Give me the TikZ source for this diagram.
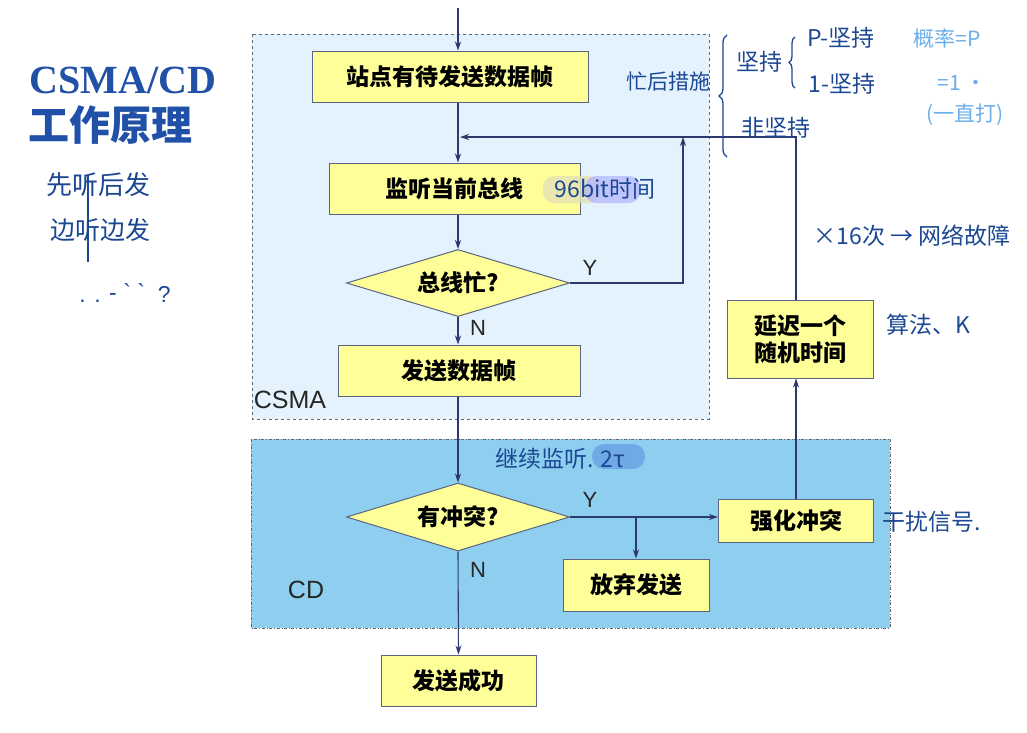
\documentclass[tikz,border=0pt]{standalone}
\usepackage{fontspec}
\setmainfont{Liberation Sans}
\newfontfamily\cjk{Noto Sans CJK SC}
\newfontfamily\titleserif{Liberation Serif}
\usetikzlibrary{shapes.geometric,arrows.meta,decorations.pathreplacing}
\definecolor{boxfill}{HTML}{FFFF99}
\definecolor{boxline}{HTML}{5B6480}
\definecolor{flowline}{HTML}{2E3A6E}
\definecolor{csmafill}{HTML}{E3F2FC}
\definecolor{cdfill}{HTML}{8ECFF0}
\definecolor{titleblue}{HTML}{2150A8}
\definecolor{ink}{HTML}{1C4893}
\definecolor{lightink}{HTML}{6AAEEA}
\definecolor{marker}{HTML}{6FA9E6}

\begin{document}
\begin{tikzpicture}[x=1pt,y=-1pt,
    box/.style={draw=boxline,fill=boxfill,line width=1pt,inner sep=0pt,
      font=\cjk\fontsize{23}{27}\selectfont\bfseries,align=center},
    decision/.style={diamond,aspect=3.3,draw=boxline,fill=boxfill,line width=1pt,inner sep=0pt,
      font=\cjk\fontsize{23}{27}\selectfont\bfseries},
    flow/.style={draw=flowline,line width=1.1pt,-{Stealth[length=9pt,width=6pt]}},
    yn/.style={font=\fontsize{22}{24}\selectfont,text=black!85},
    hand/.style={text=ink,font=\cjk\fontsize{23}{26}\selectfont},
    lighthand/.style={text=lightink,font=\cjk\fontsize{21}{24}\selectfont}]
    \fill[white] (0,0) rectangle (1027,732);
    \useasboundingbox (0,0) rectangle (1027,732);
    % regions ===============================================
    \draw[gray!80!black,dashed,fill=csmafill] (252,34) rectangle (709,419);
    \draw[gray!80!black,dash dot,fill=cdfill] (251,439) rectangle (890,628);
    \node[font=\fontsize{25}{28}\selectfont,text=black!85] (csmalbl) at (290,400) {CSMA};
    \node[font=\fontsize{25}{28}\selectfont,text=black!85] (cdlbl)   at (306,590) {CD};
    % title =================================================
    \node[anchor=west,text=titleblue,font=\titleserif\fontsize{40}{44}\selectfont\bfseries] (title)  at (26,80)  {CSMA/CD};
    \node[anchor=west,text=titleblue,font=\cjk\fontsize{41}{45}\selectfont\bfseries]        (title2) at (25,125) {工作原理};
    % CSMA ==================================================
    \coordinate (entry) at (458,8);
    \node[box,minimum width=276,minimum height=51] (wait)    at (450,76.5)  {站点有待发送数据帧};
    \node[box,minimum width=251,minimum height=51] (listen)  at (454.5,188.5) {监听当前总线};
    \node[decision,minimum width=223,minimum height=67] (busy) at (458,283) {总线忙?};
    \node[box,minimum width=242,minimum height=51] (send)    at (459,370.5) {发送数据帧};
    \coordinate (merge)  at (460,137);
    \coordinate (loopup) at (683,137);
    % CD ====================================================
    \node[decision,minimum width=223,minimum height=68] (collide) at (458,517) {有冲突?};
    \node[box,minimum width=146,minimum height=52] (quit)    at (636,585)   {放弃发送};
    \node[box,minimum width=155,minimum height=43] (jam)     at (796,520.5) {强化冲突};
    \node[box,minimum width=146,minimum height=78] (delay)   at (800,339)   {延迟一个\\随机时间};
    \node[box,minimum width=155,minimum height=51] (success) at (458.5,680.5) {发送成功};
    % connectors ============================================
    \draw[flow] (entry) -- (entry |- wait.north);
    \draw[flow] (entry |- wait.south) -- (entry |- listen.north);
    \draw[flow] (entry |- listen.south) -- (busy.north);
    \draw[flow] (busy.east) -| (loopup);
    \draw[flow] (busy.south) -- (busy.south |- send.north);
    \draw[flow] (busy.south |- send.south) -- (collide.north);
    \draw[flow] (collide.east) -- (collide.east -| jam.west);
    \draw[flow] (collide.east -| quit.north) -- (quit.north);
    \draw[flow] (jam.north) -- (jam.north |- delay.south);
    \draw[flow] (jam.north |- delay.north) |- (merge);
    \draw[flow] (collide.south) -- (success.north);
    \node[yn] (busyY)    at (590,268) {Y};
    \node[yn] (busyN)    at (478,328) {N};
    \node[yn] (collideY) at (590,500) {Y};
    \node[yn] (collideN) at (478,570) {N};
    % handwritten notes =====================================
    \node[hand,font=\cjk\fontsize{26}{28}\selectfont] (note1) at (98,185) {先听后发};
    \node[hand,font=\cjk\fontsize{25}{28}\selectfont] (note2) at (100,230) {边听边发};
    \draw[ink,line width=1.3pt] (88,175) -- (88,262);
    \node[hand] (note3) at (125,293) {\fontspec{Liberation Sans}. . \raisebox{2pt}{- ` `}\ \ ?};
    \fill[yellow!45!gray!45,rounded corners=11pt,opacity=.8] (543,176) rectangle (600,203);
    \fill[blue!30!white,rounded corners=11pt,opacity=.7] (585,176) rectangle (640,203);
    \node[hand] (note4) at (605,189) {96bit时间};
    \node[hand,font=\cjk\fontsize{21}{24}\selectfont] (note5) at (668,82) {忙后措施};
    \draw[ink,line width=1.3pt,decorate,decoration={brace,amplitude=8pt}] (727,157) -- (727,35);
    \node[hand] (keep)    at (759,62)  {坚持};
    \draw[ink,line width=1.3pt,decorate,decoration={brace,amplitude=6pt}] (795,88) -- (795,37);
    \node[hand] (pkeep)   at (841,38)  {P-坚持};
    \node[hand] (onekeep) at (842,84)  {1-坚持};
    \node[hand] (nokeep)  at (776,128) {非坚持};
    \node[lighthand] (prob)    at (947,38)  {概率=P};
    \node[lighthand] (probone) at (962,83)  {=1 ·};
    \node[lighthand] (always)  at (965,115) {(一直打)};
    \node[hand] (fail16)  at (912,236) {×16次 → 网络故障};
    \node[hand] (algo)    at (928,325) {算法、K};
    \fill[marker,rounded corners=12pt] (592,444) rectangle (645,469);
    \node[hand] (note6)   at (560,459) {继续监听. 2τ};
    \node[hand] (jamsig)  at (932,522) {干扰信号.};
\end{tikzpicture}
\end{document}
